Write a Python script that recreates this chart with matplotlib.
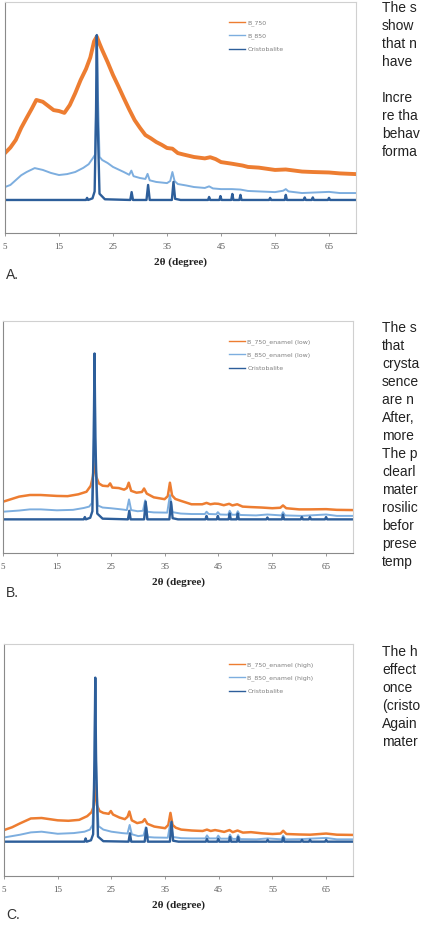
import matplotlib
matplotlib.use("Agg")
import matplotlib.pyplot as plt

# ---------------- data ----------------
two_theta_ticks = [5, 15, 25, 35, 45, 55, 65]
xlabel_text = "2θ (degree)"

# Cristobalite reference (shared 2θ grid)
cris_x = [5, 20.0, 20.2, 20.4, 21.2, 21.6, 21.85, 22.0, 22.15, 22.5, 23.5,
          28.2, 28.45, 28.7, 31.2, 31.5, 31.8, 35.9, 36.2, 36.5, 37.5,
          42.6, 42.8, 43.0, 44.7, 44.9, 45.1, 46.9, 47.1, 47.3, 48.4, 48.6, 48.8,
          53.9, 54.1, 54.3, 56.8, 57.0, 57.2, 60.3, 60.5, 60.7, 61.8, 62.0, 62.2,
          64.8, 65.0, 65.2, 70]
cris_a_y = [14.3, 14.3, 15.2, 14.3, 15.0, 18.0, 50, 85.7, 50, 17.0, 14.6,
            14.3, 17.7, 14.3, 14.3, 20.8, 14.3, 14.3, 22.1, 14.8, 14.3,
            14.3, 15.6, 14.3, 14.3, 16.0, 14.3, 14.3, 16.9, 14.3, 14.3, 16.5, 14.3,
            14.3, 15.2, 14.3, 14.3, 16.5, 14.3, 14.3, 15.4, 14.3, 14.3, 15.4, 14.3,
            14.3, 15.2, 14.3, 14.3]
cris_b_y = [14.5, 14.5, 15.5, 14.5, 15.2, 18.0, 50, 86, 50, 17.0, 14.8,
            14.5, 18.2, 14.5, 14.5, 22.1, 14.5, 14.5, 22.0, 15.0, 14.5,
            14.5, 16.0, 14.5, 14.5, 16.0, 14.5, 14.5, 17.0, 14.5, 14.5, 17.0, 14.5,
            14.5, 15.3, 14.5, 14.5, 16.5, 14.5, 14.5, 15.5, 14.5, 14.5, 15.5, 14.5,
            14.5, 15.5, 14.5, 14.5]
cris_c_y = [14.8, 14.8, 16.2, 14.8, 15.4, 18.0, 50, 85.5, 50, 17.0, 15.0,
            14.8, 18.4, 14.8, 14.8, 20.7, 14.8, 14.8, 23.4, 15.2, 14.8,
            14.8, 16.0, 14.8, 14.8, 16.0, 14.8, 14.8, 16.8, 14.8, 14.8, 16.8, 14.8,
            14.8, 15.6, 14.8, 14.8, 16.6, 14.8, 14.8, 15.6, 14.8, 14.8, 15.6, 14.8,
            14.8, 15.6, 14.8, 14.8]

# Panel A
a750_x = [5, 6, 7, 8, 9, 10, 10.8, 12, 13, 14, 15, 16, 17, 18, 19, 20, 20.8,
          21.5, 22.0, 22.5, 23, 24, 25, 26, 27, 28, 29, 30, 31, 32, 33, 34, 35,
          36, 37, 38, 40, 42, 43, 44, 45, 47, 49, 50, 52, 55, 57, 60, 62, 65, 67, 70]
a750_y = [34.6, 37.0, 40.3, 45.5, 49.8, 54.0, 57.6, 56.8, 55.0, 53.2, 52.8, 52.0,
          55.4, 60.5, 66.2, 71.0, 76.0, 83.0, 85.0, 82.0, 79.2, 74.0, 68.4, 63.5,
          58.4, 53.5, 48.9, 45.5, 42.4, 41.0, 39.4, 38.2, 36.8, 36.5, 34.6, 34.0,
          32.9, 32.3, 32.8, 32.0, 30.7, 30.0, 29.2, 28.6, 28.3, 27.3, 27.5, 26.6,
          26.4, 26.2, 25.8, 25.5]
a850_x = [5, 6, 7, 8, 9, 10.5, 12, 13.5, 15, 16.5, 18, 19.5, 20.5, 21.3, 21.7,
          21.9, 22.05, 22.2, 22.5, 23, 24, 25, 26, 27, 28.0, 28.4, 28.8, 30, 31.0,
          31.4, 31.8, 33, 35.0, 35.6, 36.0, 36.4, 37, 38.5, 40, 42, 42.8, 43.5, 45,
          47, 48.6, 50, 53, 55, 56.5, 57, 57.5, 60, 62, 65, 67, 70]
a850_y = [19.9, 20.8, 22.9, 25.0, 26.4, 28.1, 27.3, 26.0, 25.1, 25.5, 26.4, 28.2,
          29.8, 32.5, 34, 60, 80, 60, 33, 31.6, 30.3, 28.6, 27.5, 26.4, 25.2, 27.0,
          24.6, 23.8, 23.4, 25.6, 22.8, 22.1, 21.6, 22.5, 26.4, 22.5, 21.2, 20.6,
          19.9, 19.5, 20.2, 19.3, 19.0, 19.0, 18.8, 18.2, 17.9, 17.7, 18.3, 19.0,
          18.0, 17.3, 17.5, 17.8, 17.3, 17.3]

# Panels B and C share grids
enam850_x = [5, 8, 10, 12, 15, 18, 20, 21.0, 21.5, 21.8, 22.0, 22.2, 22.6, 23.5,
             25, 27, 28.0, 28.4, 28.8, 30, 31.0, 31.4, 31.8, 33, 35.5, 36.0, 36.5,
             38, 40, 42.5, 42.8, 43.2, 44.6, 44.9, 45.3, 46.8, 47.1, 47.5, 48.3,
             48.6, 49.0, 52, 54.1, 56.7, 57.0, 57.4, 60.5, 62, 65, 67, 70]
enam750_x = [5, 6.5, 8, 10, 12, 15, 17, 19, 20.5, 21.3, 21.7, 22.0, 22.3, 22.8,
             23.5, 24.5, 24.9, 25.3, 26.5, 27.5, 28.0, 28.35, 28.8, 29.8, 30.8,
             31.2, 31.7, 33, 35.0, 35.6, 36.0, 36.4, 37, 38, 40, 42, 42.8, 43.5,
             44.3, 45, 46, 47.0, 47.6, 48.5, 49.5, 51, 53, 55, 56.5, 57.0, 57.6,
             60, 62, 65, 67, 70]

b850_y = [17.8, 18.3, 18.8, 18.8, 18.4, 18.6, 19.4, 20.0, 21.5, 40, 84, 40, 20.5,
          19.6, 19.3, 18.8, 18.5, 23.1, 18.5, 18.0, 18.2, 22.7, 17.8, 17.5, 17.4,
          25.0, 17.6, 17.0, 16.8, 16.8, 17.8, 16.8, 16.7, 17.6, 16.6, 16.5, 18.2,
          16.5, 16.5, 18.0, 16.4, 16.2, 16.6, 16.2, 17.6, 16.2, 16.0, 16.2, 16.6,
          16.0, 16.0]
b750_y = [22.1, 23.2, 24.3, 25.0, 25.0, 24.6, 24.5, 25.3, 26.4, 29.0, 33.0, 40,
          33.0, 30.0, 29.0, 28.8, 30.0, 28.2, 28.0, 27.3, 28.0, 30.3, 26.8, 26.0,
          26.3, 27.8, 25.6, 24.0, 23.2, 24.5, 30.3, 24.8, 23.3, 22.5, 21.0, 21.0,
          21.6, 21.0, 21.3, 21.2, 20.6, 21.2, 20.5, 21.0, 20.0, 19.8, 19.6, 19.3,
          19.5, 20.5, 19.3, 18.8, 18.8, 18.9, 18.6, 18.5]
c850_y = [16.6, 17.8, 18.8, 19.1, 18.2, 18.5, 19.1, 20.0, 22.0, 40, 84, 40, 21.5,
          20.0, 19.1, 18.5, 18.3, 22.0, 18.0, 17.2, 17.5, 21.0, 16.8, 16.6, 16.5,
          23.0, 16.8, 16.3, 16.2, 16.2, 17.5, 16.2, 16.2, 17.4, 16.1, 16.1, 17.8,
          16.0, 16.0, 17.6, 15.9, 15.8, 16.2, 15.8, 17.4, 15.8, 15.9, 16.1, 16.4,
          15.8, 15.8]
c750_y = [19.8, 21.0, 22.7, 24.8, 25.0, 24.0, 23.8, 24.2, 25.8, 27.5, 30.0, 40,
          30.5, 28.0, 27.2, 26.8, 28.0, 26.5, 25.2, 24.5, 25.5, 27.8, 24.0, 22.8,
          23.3, 24.5, 22.5, 21.3, 20.6, 22.0, 27.2, 22.0, 20.8, 20.0, 19.6, 19.4,
          20.0, 19.4, 19.8, 19.5, 19.0, 19.8, 18.9, 19.6, 18.7, 18.9, 18.4, 18.1,
          18.3, 19.5, 18.1, 17.9, 17.8, 18.3, 17.8, 17.7]

labels_a = ["B_750", "B_850", "Cristobalite"]
labels_b = ["B_750_enamel (low)", "B_850_enamel (low)", "Cristobalite"]
labels_c = ["B_750_enamel (high)", "B_850_enamel (high)", "Cristobalite"]
panel_tags = ["A.", "B.", "C."]

# body text fragments visible at the page's right edge
text_a = ["The s", "show", "that n", "have", "", "Incre", "re tha",
          "behav", "forma"]
text_b = ["The s", "that", "crysta", "sence", "are n", "After,", "more",
          "The p", "clearl", "mater", "rosilic", "befor", "prese", "temp"]
text_c = ["The h", "effect", "once", "(cristo", "Again", "mater"]

# ---------------- style ----------------
ORANGE = "#ED7D31"
LIGHT = "#7DAEDF"
DARK = "#2D5E9A"
W, H = 421, 931
fig = plt.figure(figsize=(W / 100, H / 100), dpi=100)


def make_panel(left, right, top, bottom, series, labels, leg_top, orange_lw):
    ax = fig.add_axes([left / W, 1 - bottom / H, (right - left) / W, (bottom - top) / H])
    (x750, y750), (x850, y850), (xc, yc) = series
    ax.plot(x750, y750, color=ORANGE, lw=orange_lw, label=labels[0], solid_joinstyle="round")
    ax.plot(x850, y850, color=LIGHT, lw=1.4, label=labels[1])
    ax.plot(xc, yc, color=DARK, lw=1.7, label=labels[2])
    ax.set_xlim(5, 70)
    ax.set_ylim(0, 100)
    ax.set_yticks([])
    ax.set_xticks(two_theta_ticks)
    ax.set_xticklabels([str(t) for t in two_theta_ticks], family="Liberation Serif",
                       fontsize=6.5, color="#595959")
    ax.tick_params(axis="x", direction="out", length=2, width=0.6, color="#888888", pad=5.5)
    for s in ("left", "bottom"):
        ax.spines[s].set_color("#8a8a8a")
        ax.spines[s].set_linewidth(0.8)
    for s in ("top", "right"):
        ax.spines[s].set_color("#d0d0d0")
        ax.spines[s].set_linewidth(0.8)
    ax.set_xlabel(xlabel_text, family="Liberation Serif", fontweight="bold",
                  fontsize=8, color="#222222")
    ax.xaxis.label.set_va("center")
    ax.xaxis.set_label_coords(0.5, -29.5 / (bottom - top))
    leg = ax.legend(loc="upper left", bbox_to_anchor=((229 - left) / (right - left), leg_top),
                    frameon=False, fontsize=4.5, labelcolor="#808080", handlelength=2.6,
                    handletextpad=0.3, labelspacing=1.15, borderpad=0, borderaxespad=0)
    for ln in leg.get_lines():
        ln.set_linewidth(1.0)
    return ax


make_panel(5, 356, 2, 233, [(a750_x, a750_y), (a850_x, a850_y), (cris_x, cris_a_y)],
           labels_a, 1 - (20 - 2) / 231, 2.8)
make_panel(3, 353, 321, 553, [(enam750_x, b750_y), (enam850_x, b850_y), (cris_x, cris_b_y)],
           labels_b, 1 - (339 - 321) / 232, 1.8)
make_panel(4, 353, 644, 876, [(enam750_x, c750_y), (enam850_x, c850_y), (cris_x, cris_c_y)],
           labels_c, 1 - (662 - 644) / 232, 1.8)

for tag, yc in zip(panel_tags, [275, 593, 915]):
    fig.text(6 / W, 1 - yc / H, tag, family="Liberation Sans", fontsize=10,
             color="#333333", va="center", ha="left")

for lines, y0 in [(text_a, 8), (text_b, 328), (text_c, 652)]:
    for i, line in enumerate(lines):
        if line:
            fig.text(382 / W, 1 - (y0 + 18 * i) / H, line, family="Liberation Sans",
                     fontsize=10, color="#222222", va="center", ha="left")

fig.savefig("out.png", dpi=100, facecolor="white")
